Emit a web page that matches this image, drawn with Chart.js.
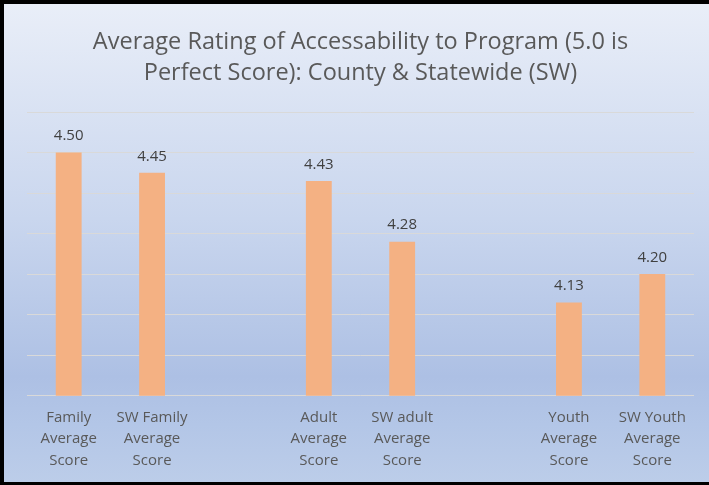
<!DOCTYPE html>
<html>
<head>
<meta charset="utf-8">
<script src="https://cdn.jsdelivr.net/npm/chart.js@4.4.1/dist/chart.umd.min.js"></script>
<style>
  html, body { margin: 0; padding: 0; background: #fff; }
  #wrap {
    position: absolute; left: 0; top: 0;
    width: 705px; height: 478px;
    border-left: 4px solid #000;
    border-top: 4px solid #000;
    border-bottom: 3px solid #000;
    background: linear-gradient(to bottom, #e9eef8 0%, #c9d6ee 45%, #adc0e4 78%, #b3c6e7 88%, #bccde9 100%);
  }
  canvas { display: block; }
</style>
</head>
<body>
<div id="wrap"><canvas id="chart" width="705" height="478"></canvas></div>
<script>
// Bar categories (empty slots are the gaps between groups)
const categories = [
  ['Family', 'Average', 'Score'],
  ['SW Family', 'Average', 'Score'],
  '',
  ['Adult', 'Average', 'Score'],
  ['SW adult', 'Average', 'Score'],
  '',
  ['Youth', 'Average', 'Score'],
  ['SW Youth', 'Average', 'Score']
];
const scores = [4.50, 4.45, null, 4.43, 4.28, null, 4.13, 4.20];
const yTicks = [3.9, 4.0, 4.1, 4.2, 4.3, 4.4, 4.5, 4.6];

const fontFamily = '"Open Sans", Lato, sans-serif';

// draw value above each bar
const valueLabels = {
  id: 'valueLabels',
  afterDatasetsDraw(chart) {
    const ctx = chart.ctx;
    const meta = chart.getDatasetMeta(0);
    ctx.save();
    ctx.font = '15px ' + fontFamily;
    ctx.fillStyle = '#404040';
    ctx.textAlign = 'center';
    ctx.textBaseline = 'bottom';
    meta.data.forEach((bar, i) => {
      if (scores[i] == null) return;
      ctx.fillText(scores[i].toFixed(2), bar.x, bar.y - 9);
    });
    ctx.restore();
  }
};

new Chart(document.getElementById('chart'), {
  type: 'bar',
  data: {
    labels: categories,
    datasets: [{
      data: scores,
      backgroundColor: '#f4b183',
      barPercentage: 0.62,
      categoryPercentage: 0.5
    }]
  },
  options: {
    responsive: false,
    animation: false,
    layout: { padding: { left: 23, right: 15, top: 0, bottom: 0 } },
    plugins: {
      legend: { display: false },
      tooltip: { enabled: false },
      title: {
        display: true,
        text: ['Average Rating of Accessability to Program (5.0 is', 'Perfect Score): County & Statewide (SW)'],
        color: '#595959',
        font: { family: fontFamily, size: 23.5, weight: 'normal', lineHeight: 1.32 },
        padding: { top: 23, bottom: 23 }
      }
    },
    scales: {
      x: {
        grid: { display: false, drawTicks: false },
        border: { display: false },
        ticks: {
          color: '#595959',
          font: { family: fontFamily, size: 15, lineHeight: 1.43 },
          padding: 11,
          maxRotation: 0,
          autoSkip: false
        }
      },
      y: {
        min: 3.9,
        max: 4.6,
        afterBuildTicks: (axis) => { axis.ticks = yTicks.map(v => ({ value: v })); },
        grid: { color: '#d9d9d9', lineWidth: 1, drawTicks: false },
        border: { display: false },
        ticks: { display: false }
      }
    }
  },
  plugins: [valueLabels]
});
</script>
</body>
</html>
